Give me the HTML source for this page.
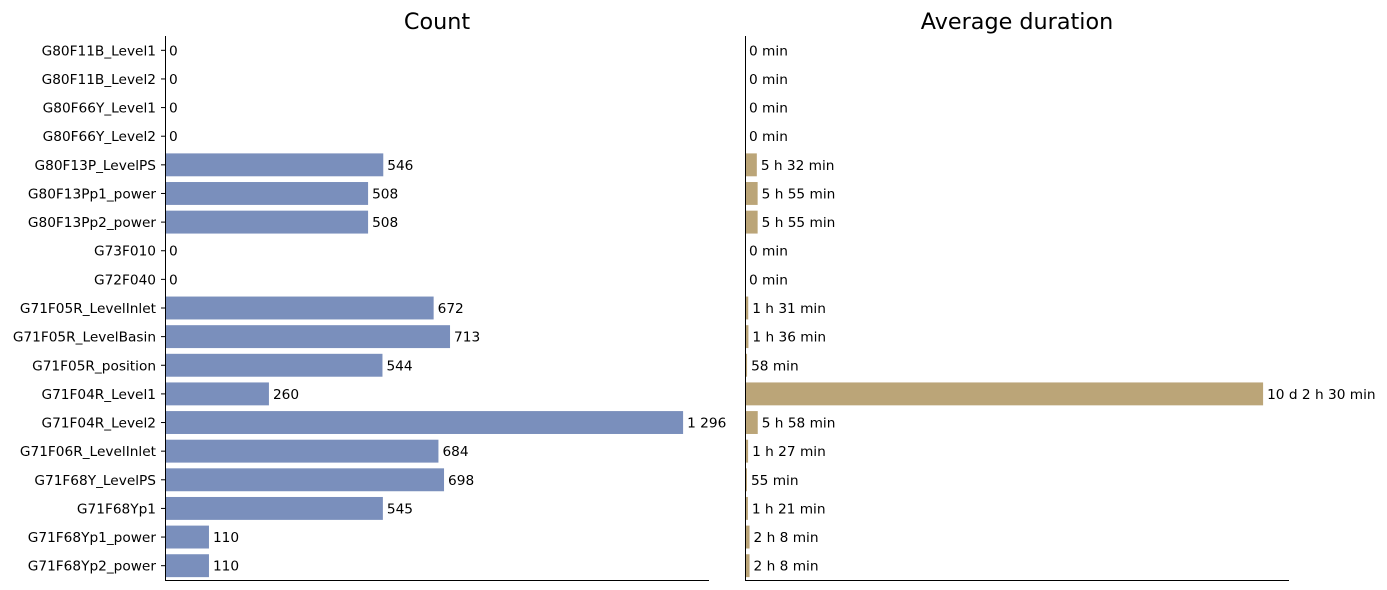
<!DOCTYPE html>
<html><head><meta charset="utf-8">
<style>
html,body{margin:0;padding:0;background:#fff;width:1387px;height:590px;overflow:hidden}
svg{display:block;font-family:"DejaVu Sans","Liberation Sans",sans-serif}
</style></head>
<body>
<svg id="chart" width="1387" height="590" xmlns="http://www.w3.org/2000/svg"></svg>
<script>
const categories = ["G80F11B_Level1","G80F11B_Level2","G80F66Y_Level1","G80F66Y_Level2","G80F13P_LevelPS","G80F13Pp1_power","G80F13Pp2_power","G73F010","G72F040","G71F05R_LevelInlet","G71F05R_LevelBasin","G71F05R_position","G71F04R_Level1","G71F04R_Level2","G71F06R_LevelInlet","G71F68Y_LevelPS","G71F68Yp1","G71F68Yp1_power","G71F68Yp2_power"];
const countValues = [0,0,0,0,546,508,508,0,0,672,713,544,260,1296,684,698,545,110,110];
const countLabels = ["0","0","0","0","546","508","508","0","0","672","713","544","260","1 296","684","698","545","110","110"];
const durationMinutes = [0,0,0,0,332,355,355,0,0,91,96,58,14550,358,87,55,81,128,128];
const durationLabels = ["0 min","0 min","0 min","0 min","5 h 32 min","5 h 55 min","5 h 55 min","0 min","0 min","1 h 31 min","1 h 36 min","58 min","10 d 2 h 30 min","5 h 58 min","1 h 27 min","55 min","1 h 21 min","2 h 8 min","2 h 8 min"];

(function(){
const svg = document.getElementById('chart');
const NS = "http://www.w3.org/2000/svg";
function mk(tag, attrs, text){
  const e = document.createElementNS(NS, tag);
  for (const k in attrs) e.setAttribute(k, attrs[k]);
  if (text !== undefined) e.textContent = text;
  svg.appendChild(e);
  return e;
}
const plotTop = 36, plotBottom = 580, n = categories.length;
const band = (plotBottom - plotTop) / n;
function yBand(i){ return plotTop + i * band; }

function panel(x0, x1, values, labels, color, title, showY, key){
  const max = Math.max(...values) * 1.05;
  const xs = v => x0 + (v / max) * (x1 - x0);
  const t = mk('text', {x:(x0+x1)/2, y:29, 'text-anchor':'middle', 'font-size':'22.3', fill:'#000'}, title);
  
  
  values.forEach((v, i) => {
    const y = yBand(i) + band * 0.1, h = band * 0.8;
    const r = mk('rect', {x:x0, y:y, width:Math.max(0, xs(v) - x0), height:h, fill:color});
    
    
    const lb = mk('text', {x:xs(v) + 4, y:yBand(i) + band/2 + 5, 'font-size':'13.7', fill:'#000'}, labels[i]);
    
    
    if (showY) {
      const tk = mk('line', {x1:x0-4, x2:x0, y1:yBand(i)+band/2, y2:yBand(i)+band/2, stroke:'#000', 'stroke-width':1});
      
      
      const tl = mk('text', {x:x0-9, y:yBand(i)+band/2+5, 'text-anchor':'end', 'font-size':'13.7', fill:'#000'}, categories[i]);
      
      
    }
  });
  const ls = mk('line', {x1:x0+0.5, x2:x0+0.5, y1:plotTop, y2:plotBottom, stroke:'#000', 'stroke-width':1});
  
  
  const bs = mk('line', {x1:x0, x2:x1, y1:plotBottom+0.5, y2:plotBottom+0.5, stroke:'#000', 'stroke-width':1});
  
  
}
panel(165, 709, countValues, countLabels, '#7a8fbc', 'Count', true, 'count');
panel(745, 1289, durationMinutes, durationLabels, '#bba578', 'Average duration', false, 'duration');
})();
</script>
</body></html>
